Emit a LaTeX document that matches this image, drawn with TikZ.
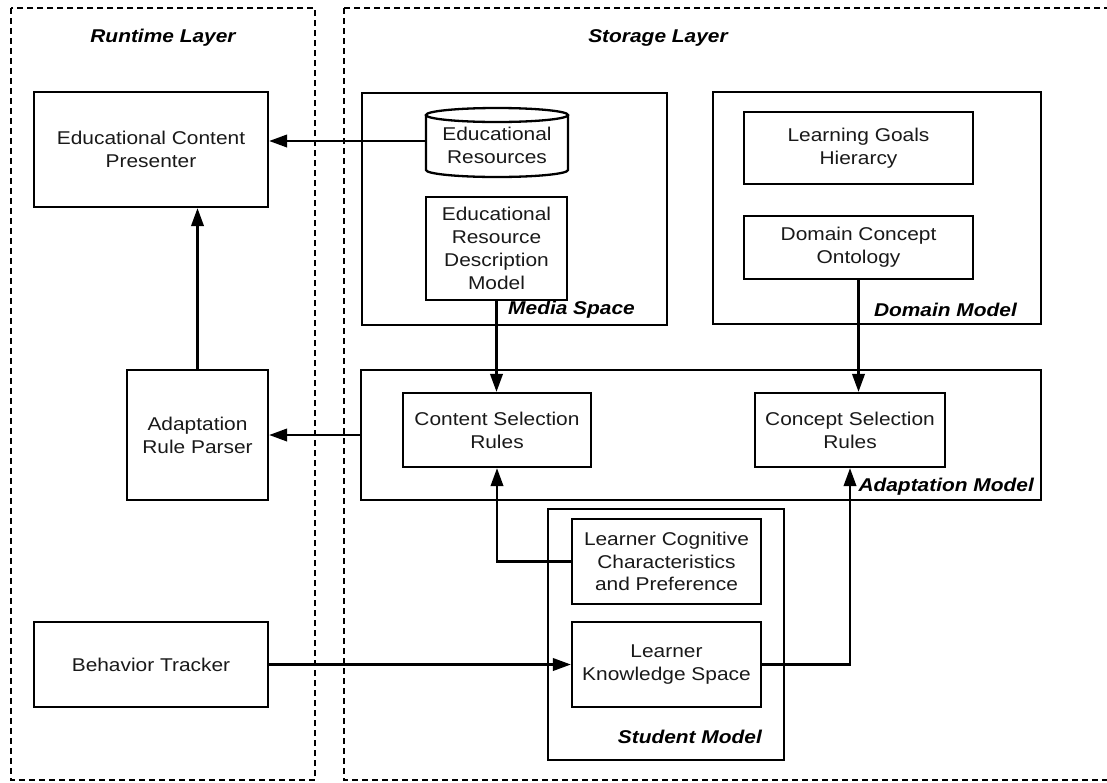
\documentclass[tikz,border=0pt]{standalone}
\usepackage{fontspec}
\setmainfont{Liberation Sans}[FakeStretch=1.13]
\usetikzlibrary{arrows.meta}
\begin{document}
\begin{tikzpicture}[x=1pt, y=-1pt, line width=2.3pt,
  font=\fontsize{18.5}{22.8}\selectfont,
  box/.style={draw, line width=2.3pt, inner sep=0pt, align=center, text=black!90},
  frame/.style={draw, line width=2.3pt, inner sep=0pt},
  layer/.style={draw, dash pattern=on 6pt off 4pt, line width=2.2pt},
  caption/.style={font=\fontsize{18.5}{22.8}\selectfont\bfseries\itshape, inner sep=0pt},
  link/.style={line width=2.3pt, -{Triangle[length=18pt,width=12.5pt]}}]
\useasboundingbox (0,0) rectangle (1107,782);
\clip (0,0) rectangle (1107,782);

% layers
\draw[layer] (11,8) rectangle (315,780);
\draw[layer] (344,8) rectangle (1125,780);
\node[caption] (rtl) at (163,38) {Runtime Layer};
\node[caption] (stl) at (658,38) {Storage Layer};

% containers in the storage layer
\node[frame, minimum width=305pt, minimum height=232pt] (media) at (514.5,209) {};
\node[caption, anchor=east] (medial) at (636,310) {Media Space};
\node[frame, minimum width=328pt, minimum height=232pt] (domain) at (877,208) {};
\node[caption, anchor=east] (domainl) at (1018,310) {Domain Model};
\node[frame, minimum width=680pt, minimum height=130pt] (adapt) at (701,435) {};
\node[caption, anchor=east] (adaptl) at (1035,487) {Adaptation Model};
\node[frame, minimum width=236pt, minimum height=251pt] (student) at (666,634.5) {};
\node[caption, anchor=east] (studentl) at (763,737) {Student Model};

% runtime components
\node[box, minimum width=234pt, minimum height=115pt] (ecp) at (151,149.5) {Educational Content\\Presenter};
\node[box, minimum width=141pt, minimum height=130pt] (parser) at (197.5,435) {Adaptation\\Rule Parser};
\node[box, minimum width=234pt, minimum height=85pt] (bt) at (151,664.5) {Behavior Tracker};

% media space: resource store drawn as a cylinder
\draw (426,115) -- (426,170) arc[start angle=180, end angle=360, x radius=71pt, y radius=7pt] -- (568,115);
\draw (497,115) ellipse[x radius=71pt, y radius=7pt];
\node[inner sep=0pt, minimum width=142pt, minimum height=69pt] (res) at (497,141) {};
\node[align=center, inner sep=0pt, text=black!90] (restext) at (497,145) {Educational\\Resources};
\node[box, minimum width=141pt, minimum height=103pt] (erdm) at (496.5,248.5) {Educational\\Resource\\Description\\Model};

% domain model
\node[box, minimum width=229pt, minimum height=72pt] (lgh) at (858.5,148) {Learning Goals\\Hierarcy};
\node[box, minimum width=229pt, minimum height=63pt] (dco) at (858.5,247.5) {Domain Concept\\Ontology};

% adaptation model
\node[box, minimum width=188pt, minimum height=74pt] (csr) at (497,430) {Content Selection\\Rules};
\node[box, minimum width=190pt, minimum height=74pt] (cosr) at (850,430) {Concept Selection\\Rules};

% student model
\node[box, minimum width=189pt, minimum height=85pt] (lccp) at (666.5,561.5) {Learner Cognitive\\Characteristics\\and Preference};
\node[box, minimum width=189pt, minimum height=85pt] (lks) at (666.5,664.5) {Learner\\Knowledge Space};

% connectors
\draw[link] (res.west) -- (res.west -| ecp.east);
\draw[link] (parser.north) -- (parser.north |- ecp.south);
\draw[link] (adapt.west) -- (adapt.west -| parser.east);
\draw[link] (erdm.south) -- (erdm.south |- csr.north);
\draw[link] (dco.south) -- (dco.south |- cosr.north);
\draw[link] (lccp.west) -| (csr.south);
\draw[link] (lks.east) -| (cosr.south);
\draw[link] (bt.east) -- (lks.west);
\end{tikzpicture}
\end{document}
